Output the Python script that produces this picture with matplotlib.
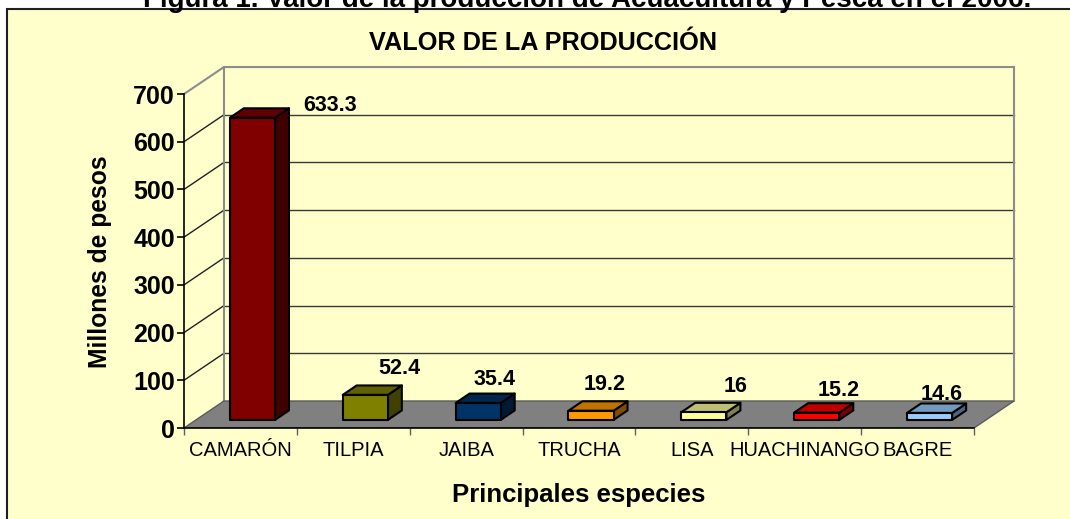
import numpy as np
import matplotlib
matplotlib.use('Agg')
import matplotlib.pyplot as plt
from matplotlib.patches import Polygon, Rectangle
from matplotlib.colors import to_rgb

plt.rcParams['font.family'] = ['Liberation Sans', 'DejaVu Sans']

# Datos
especies = ['CAMARÓN', 'TILPIA', 'JAIBA', 'TRUCHA', 'LISA', 'HUACHINANGO', 'BAGRE']
valores = [633.3, 52.4, 35.4, 19.2, 16, 15.2, 14.6]
colores = ['#800000', '#808000', '#003366', '#FF9900', '#FFFF99', '#FF0000', '#99CCFF']
y_ticks = [0, 100, 200, 300, 400, 500, 600, 700]

titulo_fig = 'Figura 1. Valor de la producción de Acuacultura y Pesca en el 2006.'
titulo = 'VALOR DE LA PRODUCCIÓN'
x_label = 'Principales especies'
y_label = 'Millones de pesos'

# where excel dropped the value labels (offset from bar centre / top)
lab_dx = [0.79, 0.41, 0.25, 0.23, 0.39, 0.30, 0.21]
lab_dy = [31, 60, 54, 60, 59, 51, 44]

# layout
W, H = 1070, 519
PX_X, PX_Y = 112.86, 0.4771   # pixels per category / per value unit
DX, DY = 0.354, 56.6          # depth of the 3d box in data units
D0, D1 = 0.30, 0.65           # bar depth range
BW = 0.40
n = len(especies)

fig = plt.figure(figsize=(W / 100, H / 100), dpi=100, facecolor='white')
fig.patches.append(Rectangle((7 / W, -0.1), 1.2, 1.1 - 9 / H, transform=fig.transFigure,
                             facecolor='#FFFFCC', edgecolor='#202020', lw=1.5, zorder=-5))

ax = fig.add_axes([184 / W, 91 / H, 7.4 * PX_X / W, 770 * PX_Y / H])
ax.set_zorder(2)
ax.set_xlim(0, 7.4)
ax.set_ylim(0, 770)
ax.patch.set_visible(False)

# walls
gc = '#8C8C8C'
for t in y_ticks:
    if 0 < t < 700:
        ax.plot([0, DX], [t, t + DY], color='#202020', lw=1, zorder=1)
        ax.plot([DX, n + DX], [t + DY, t + DY], color='#3A3A3A', lw=1, zorder=1)
ax.plot([0, DX, n + DX], [700, 700 + DY, 700 + DY], color=gc, lw=1.5, zorder=1)
ax.plot([DX, DX], [DY, 700 + DY], color=gc, lw=1.5, zorder=1)
ax.plot([n + DX, n + DX], [DY, 700 + DY], color=gc, lw=1.5, zorder=1)

# floor
ax.add_patch(Polygon([(0, 0), (n, 0), (n + DX, DY), (DX, DY)], closed=True,
                     facecolor='#808080', edgecolor='#5A5A5A', lw=1, zorder=2))


def p(x, y, d):
    return (x + d * DX, y + d * DY)


# bars
for i, (v, c) in enumerate(zip(valores, colores)):
    x0 = i + 0.5 - BW / 2
    x1 = x0 + BW
    base = np.array(to_rgb(c))
    front = [p(x0, 0, D0), p(x1, 0, D0), p(x1, v, D0), p(x0, v, D0)]
    top = [p(x0, v, D0), p(x1, v, D0), p(x1, v, D1), p(x0, v, D1)]
    side = [p(x1, 0, D0), p(x1, 0, D1), p(x1, v, D1), p(x1, v, D0)]
    for pts, col in [(side, base * 0.5), (top, base * 0.75), (front, base)]:
        ax.add_patch(Polygon(pts, closed=True, facecolor=col, edgecolor='black',
                             lw=1.5, joinstyle='round', zorder=4))
    ax.text(i + 0.5 + lab_dx[i], v + lab_dy[i], f'{v:g}', ha='center', va='baseline',
            fontsize=15.5, fontweight='bold', zorder=6)

# axes
for s in ['top', 'right']:
    ax.spines[s].set_visible(False)
ax.spines['left'].set_bounds(0, 700)
ax.spines['bottom'].set_bounds(0, n)
ax.spines['left'].set_linewidth(1.2)
ax.spines['bottom'].set_linewidth(1.2)
ax.spines['left'].set_zorder(3)
ax.spines['bottom'].set_zorder(3)

ax.set_yticks(y_ticks)
ax.set_yticklabels([str(t) for t in y_ticks], fontsize=18, fontweight='bold')
ax.tick_params(axis='y', length=5, width=1.2, pad=1.5)

ax.set_xticks(range(n + 1))
ax.set_xticklabels([''] * (n + 1))
ax.set_xticks(np.arange(n) + 0.5, minor=True)
ax.set_xticklabels(especies, minor=True, fontsize=14.5)
ax.tick_params(axis='x', which='major', length=5, width=1, color='#606060')
ax.tick_params(axis='x', which='minor', length=0, pad=9)

# texts
fig.text(100 / W, 1 - 262 / H, y_label, rotation=90, ha='center', va='center',
         fontsize=17.7, fontweight='bold')
fig.text(579 / W, 1 - 502 / H, x_label, ha='center', va='baseline',
         fontsize=18.5, fontweight='bold')
fig.text(543 / W, 1 - 50 / H, titulo, ha='center', va='baseline',
         fontsize=18.2, fontweight='bold')
fig.text(587 / W, 1 - 7 / H, titulo_fig, ha='center', va='baseline',
         fontsize=20, fontweight='bold')

fig.savefig('out.png', dpi=100)
